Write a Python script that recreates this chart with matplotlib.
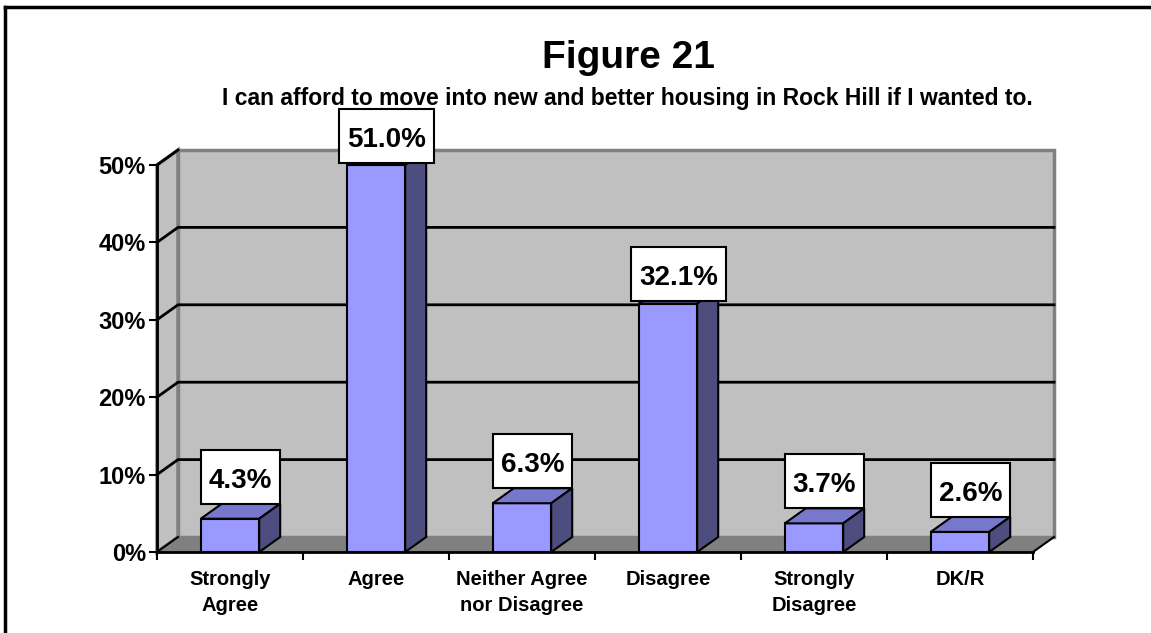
import matplotlib
matplotlib.use('Agg')
import matplotlib.pyplot as plt
from matplotlib.patches import Polygon, Rectangle
from matplotlib.lines import Line2D

plt.rcParams['font.family'] = ['Liberation Sans', 'DejaVu Sans']
plt.rcParams['font.weight'] = 'bold'

#Survey data
categories = ['Strongly\nAgree', 'Agree', 'Neither Agree\nnor Disagree',
              'Disagree', 'Strongly\nDisagree', 'DK/R']
values = [4.3, 51.0, 6.3, 32.1, 3.7, 2.6]
yticks = [0, 10, 20, 30, 40, 50]
title = 'Figure 21'
subtitle = 'I can afford to move into new and better housing in Rock Hill if I wanted to.'

W, H = 1151, 633
fig = plt.figure(figsize=(W / 100, H / 100), dpi=100)

#front plane of the 3d box in pixels
x0, x1, yb, yt = 157, 1033, 552, 165
ax = fig.add_axes([x0 / W, 1 - yb / H, (x1 - x0) / W, (yb - yt) / H])
n = len(categories)
ymax = yticks[-1]
ax.set_xlim(-0.5, n - 0.5)
ax.set_ylim(0, ymax)
ax.set_facecolor('none')

#depth offset of the walls, in data units
DX = 21 / ((x1 - x0) / n)
DY = 15 / ((yb - yt) / ymax)
barw = 0.40

wall = '#C0C0C0'
floor = '#808080'
edge = '#808080'

#back wall, side wall and floor
ax.add_patch(Polygon([(-0.5 + DX, DY), (n - 0.5 + DX, DY), (n - 0.5 + DX, ymax + DY),
                      (-0.5 + DX, ymax + DY)], closed=True, fc=wall, ec=edge, lw=2.5,
                     clip_on=False, zorder=0.5))
ax.add_patch(Polygon([(-0.5, 0), (-0.5 + DX, DY), (-0.5 + DX, ymax + DY), (-0.5, ymax)],
                     closed=True, fc=wall, ec=edge, lw=2.5, clip_on=False, zorder=0.6))
ax.add_patch(Polygon([(-0.5, 0), (n - 0.5, 0), (n - 0.5 + DX, DY), (-0.5 + DX, DY)],
                     closed=True, fc=floor, ec='none', clip_on=False, zorder=0.7))
ax.plot([n - 0.5, n - 0.5 + DX], [0, DY], color='black', lw=1.5, clip_on=False, zorder=0.8)
ax.plot([-0.5, -0.5 + DX], [0, DY], color='black', lw=1.5, clip_on=False, zorder=0.8)

#gridlines on the walls
for t in yticks[1:-1]:
    ax.plot([-0.5, -0.5 + DX, n - 0.5 + DX], [t, t + DY, t + DY], color='black',
            lw=2, clip_on=False, zorder=0.9)
ax.plot([-0.5, -0.5 + DX], [ymax, ymax + DY], color='black', lw=2, clip_on=False, zorder=0.9)

#3d bars
labels = []
for i, v in enumerate(values):
    h = min(v, ymax)
    l, r = i - barw / 2, i + barw / 2
    ax.add_patch(Rectangle((l, 0), barw, h, fc='#9999FF', ec='black', lw=1.5,
                           clip_on=False, zorder=2))
    ax.add_patch(Polygon([(l, h), (r, h), (r + DX, h + DY), (l + DX, h + DY)], closed=True,
                         fc='#7777CC', ec='black', lw=1.5, clip_on=False, zorder=2))
    ax.add_patch(Polygon([(r, 0), (r + DX, DY), (r + DX, h + DY), (r, h)], closed=True,
                         fc='#4D4D80', ec='black', lw=1.5, clip_on=False, zorder=2))
    if v < 10:
        ylab = h + DY
    else:
        ylab = h + 0.3
    px, py = ax.transData.transform((i + DX / 2, ylab))
    t = fig.text(px / W, (py + 16) / H, '%.1f%%' % v, ha='center', va='baseline',
                 fontsize=20, fontweight='bold', zorder=6)
    labels.append((t, py))

#axes
ax.set_yticks(yticks)
ax.set_yticklabels(['%d%%' % t for t in yticks], fontsize=17, fontweight='bold')
ax.set_xticks([k - 0.5 for k in range(n + 1)])
ax.set_xticklabels([])
ax.set_xticks(range(n), minor=True)
ax.set_xticklabels(categories, minor=True, fontsize=14.5, fontweight='bold', linespacing=1.45)
ax.tick_params(axis='y', direction='out', length=6, width=1.5, pad=2)
ax.tick_params(axis='x', which='major', direction='out', length=6, width=1.5)
ax.tick_params(axis='x', which='minor', length=0, pad=13)
for s in ['top', 'right']:
    ax.spines[s].set_visible(False)
for s in ['left', 'bottom']:
    ax.spines[s].set_linewidth(2)
    ax.spines[s].set_zorder(3)

fig.text(628 / W, 1 - 68 / H, title, ha='center', va='baseline', fontsize=28, fontweight='bold')
fig.text(627 / W, 1 - 105 / H, subtitle, ha='center', va='baseline', fontsize=16.5,
         fontweight='bold')

#white boxes behind the value labels
fig.canvas.draw()
rend = fig.canvas.get_renderer()
for t, py in labels:
    ext = t.get_window_extent(rend)
    fig.add_artist(Rectangle(((ext.x0 - 8) / W, py / H), (ext.width + 16) / W, 54 / H,
                             transform=fig.transFigure, fc='white', ec='black', lw=1.5,
                             zorder=5))

#outer frame
fig.add_artist(Line2D([5 / W, 5 / W], [0, 1 - 7 / H], color='black', lw=2.5))
fig.add_artist(Line2D([5 / W, 1], [1 - 7 / H, 1 - 7 / H], color='black', lw=2.5))

fig.savefig('out.png', dpi=100)
